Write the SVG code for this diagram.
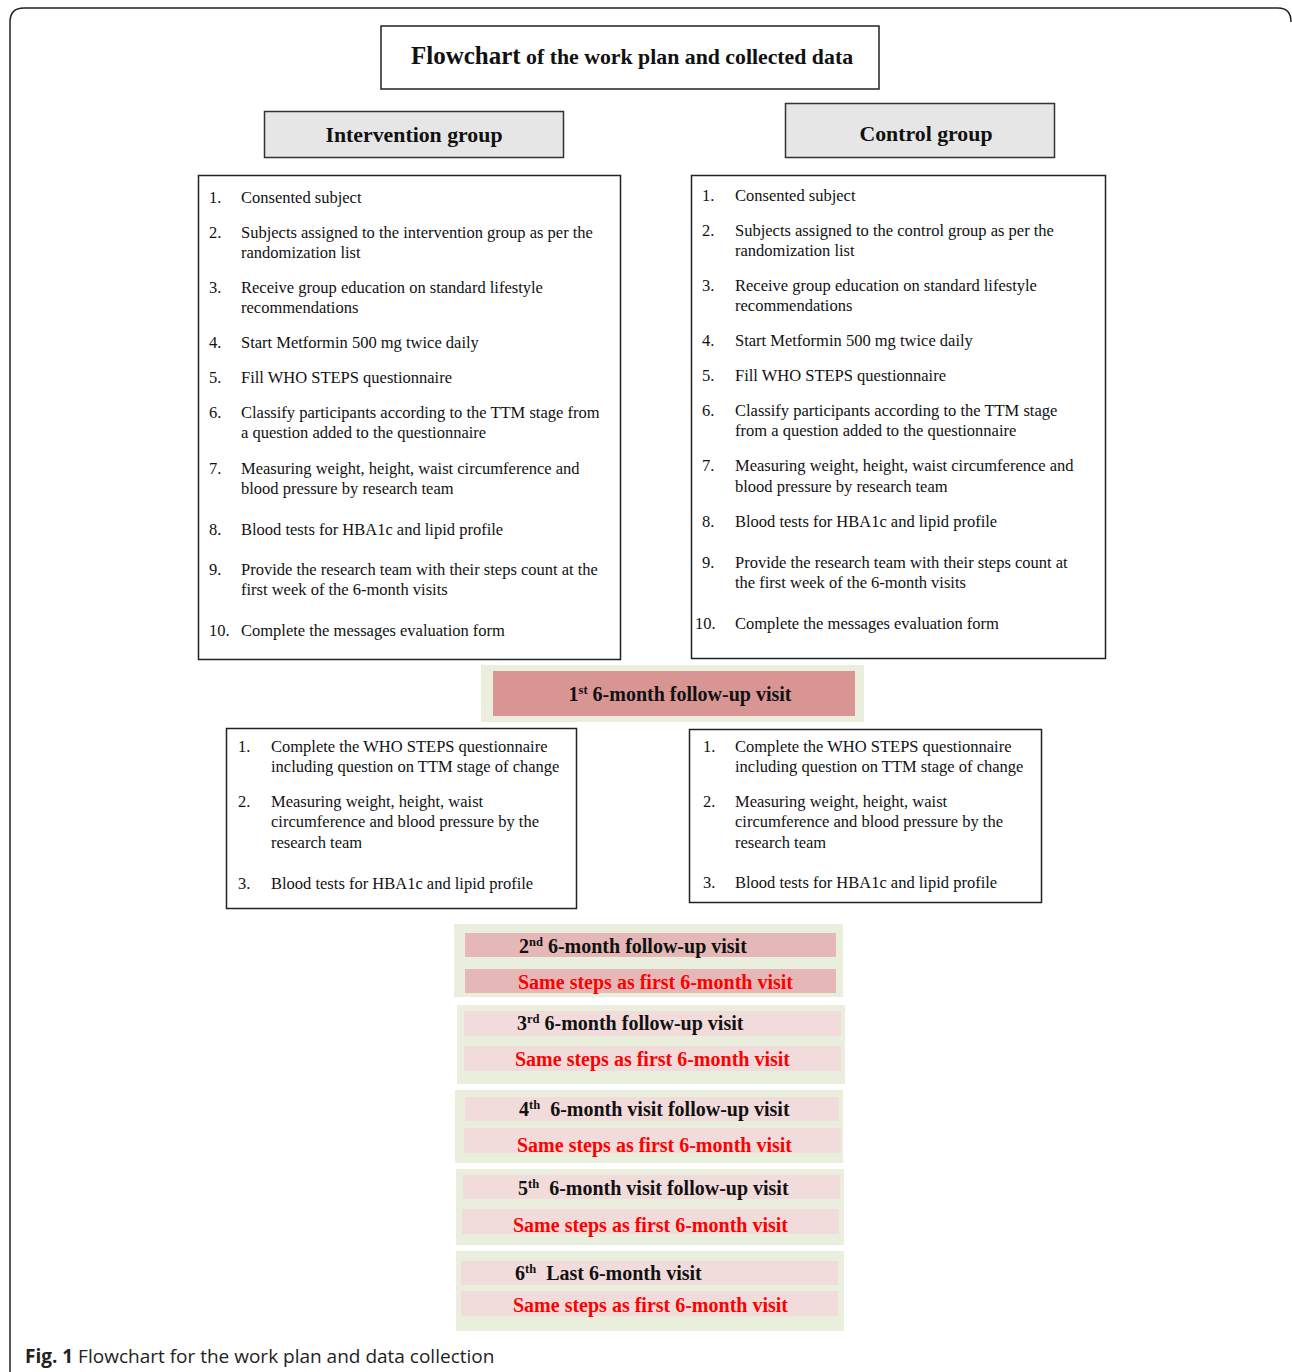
<svg xmlns="http://www.w3.org/2000/svg" width="1292" height="1372" viewBox="0 0 1292 1372">
<style>
.box{fill:#fff;stroke:#222;stroke-width:1.5}
.hdr{fill:#e6e6e6;stroke:#333;stroke-width:1.5}
.grn{fill:#e9efdc}
.p1{fill:#d99594}
.p2{fill:#e5b8b7}
.p3{fill:#f2dcdb}
.t{font-family:"Liberation Serif","Times New Roman",serif;font-size:16.5px;fill:#111}
.b{font-family:"Liberation Serif","Times New Roman",serif;font-weight:bold;fill:#111}
.v{font-family:"Liberation Serif","Times New Roman",serif;font-weight:bold;font-size:20px;fill:#111}
.r{font-family:"Liberation Serif","Times New Roman",serif;font-weight:bold;font-size:20px;fill:#ff0000}
.cap{font-family:"Open Sans","Liberation Sans",sans-serif;font-size:19px;fill:#222}
</style>
<rect width="1292" height="1372" fill="#fff"/>
<path d="M10,1372 V22 Q10,8 24,8 H1278 Q1291,8 1291,22" fill="none" stroke="#222" stroke-width="1.5"/>

<g id="title">
<rect x="381" y="26" width="498" height="63" class="box"/>
<text x="632" y="64" text-anchor="middle" class="b"><tspan font-size="25">Flowchart</tspan><tspan font-size="21.8"> of the work plan and collected data</tspan></text>
</g>

<g id="intervention-header">
<rect x="264.5" y="111.5" width="299" height="46" class="hdr"/>
<text x="414" y="142" text-anchor="middle" class="b" font-size="21.8">Intervention group</text>
</g>

<g id="control-header">
<rect x="785.5" y="103.5" width="269" height="54" class="hdr"/>
<text x="926" y="141" text-anchor="middle" class="b" font-size="21.8">Control group</text>
</g>

<g id="intervention-list">
<rect x="198.5" y="175.5" width="422" height="484" class="box"/>
<g class="t">
<text x="209" y="203">1.</text><text x="241" y="203">Consented subject</text>
<text x="209" y="238">2.</text><text x="241" y="238">Subjects assigned to the intervention group as per the</text><text x="241" y="258">randomization list</text>
<text x="209" y="293">3.</text><text x="241" y="293">Receive group education on standard lifestyle</text><text x="241" y="313">recommendations</text>
<text x="209" y="348">4.</text><text x="241" y="348">Start Metformin 500 mg twice daily</text>
<text x="209" y="383">5.</text><text x="241" y="383">Fill WHO STEPS questionnaire</text>
<text x="209" y="418">6.</text><text x="241" y="418">Classify participants according to the TTM stage from</text><text x="241" y="438">a question added to the questionnaire</text>
<text x="209" y="474">7.</text><text x="241" y="474">Measuring weight, height, waist circumference and</text><text x="241" y="494">blood pressure by research team</text>
<text x="209" y="535">8.</text><text x="241" y="535">Blood tests for HBA1c and lipid profile</text>
<text x="209" y="575">9.</text><text x="241" y="575">Provide the research team with their steps count at the</text><text x="241" y="595">first week of the 6-month visits</text>
<text x="209" y="636">10.</text><text x="241" y="636">Complete the messages evaluation form</text>
</g>
</g>

<g id="control-list">
<rect x="691.5" y="175.5" width="414" height="483" class="box"/>
<g class="t">
<text x="702" y="201">1.</text><text x="735" y="201">Consented subject</text>
<text x="702" y="236">2.</text><text x="735" y="236">Subjects assigned to the control group as per the</text><text x="735" y="256">randomization list</text>
<text x="702" y="291">3.</text><text x="735" y="291">Receive group education on standard lifestyle</text><text x="735" y="311">recommendations</text>
<text x="702" y="346">4.</text><text x="735" y="346">Start Metformin 500 mg twice daily</text>
<text x="702" y="381">5.</text><text x="735" y="381">Fill WHO STEPS questionnaire</text>
<text x="702" y="416">6.</text><text x="735" y="416">Classify participants according to the TTM stage</text><text x="735" y="436">from a question added to the questionnaire</text>
<text x="702" y="471">7.</text><text x="735" y="471">Measuring weight, height, waist circumference and</text><text x="735" y="492">blood pressure by research team</text>
<text x="702" y="527">8.</text><text x="735" y="527">Blood tests for HBA1c and lipid profile</text>
<text x="702" y="568">9.</text><text x="735" y="568">Provide the research team with their steps count at</text><text x="735" y="588">the first week of the 6-month visits</text>
<text x="695" y="629">10.</text><text x="735" y="629">Complete the messages evaluation form</text>
</g>
</g>

<g id="visit1">
<rect x="481" y="665" width="383" height="57" class="grn"/>
<rect x="493" y="671" width="362" height="45" class="p1"/>
<text x="680" y="701" text-anchor="middle" class="v">1<tspan font-size="12.5" dy="-7">st</tspan><tspan dy="7"> 6-month follow-up visit</tspan></text>
</g>

<g id="intervention-followup">
<rect x="226.5" y="728.5" width="350" height="180" class="box"/>
<g class="t">
<text x="238" y="752">1.</text><text x="271" y="752">Complete the WHO STEPS questionnaire</text><text x="271" y="772">including question on TTM stage of change</text>
<text x="238" y="807">2.</text><text x="271" y="807">Measuring weight, height, waist</text><text x="271" y="827">circumference and blood pressure by the</text><text x="271" y="848">research team</text>
<text x="238" y="889">3.</text><text x="271" y="889">Blood tests for HBA1c and lipid profile</text>
</g>
</g>

<g id="control-followup">
<rect x="689.5" y="729.5" width="352" height="173" class="box"/>
<g class="t">
<text x="703" y="752">1.</text><text x="735" y="752">Complete the WHO STEPS questionnaire</text><text x="735" y="772">including question on TTM stage of change</text>
<text x="703" y="807">2.</text><text x="735" y="807">Measuring weight, height, waist</text><text x="735" y="827">circumference and blood pressure by the</text><text x="735" y="848">research team</text>
<text x="703" y="888">3.</text><text x="735" y="888">Blood tests for HBA1c and lipid profile</text>
</g>
</g>

<g id="visit2">
<rect x="454" y="924" width="389" height="73" class="grn"/>
<rect x="465" y="933" width="371" height="24" class="p2"/>
<rect x="465" y="969" width="371" height="24" class="p2"/>
<text x="519" y="953" class="v">2<tspan font-size="12.5" dy="-7">nd</tspan><tspan dy="7"> 6-month follow-up visit</tspan></text>
<text x="518" y="989" class="r">Same steps as first 6-month visit</text>
</g>

<g id="visit3">
<rect x="457" y="1005" width="388" height="79" class="grn"/>
<rect x="464" y="1011" width="377" height="25" class="p3"/>
<rect x="464" y="1046" width="377" height="25" class="p3"/>
<text x="517" y="1030" class="v">3<tspan font-size="12.5" dy="-7">rd</tspan><tspan dy="7"> 6-month follow-up visit</tspan></text>
<text x="515" y="1066" class="r">Same steps as first 6-month visit</text>
</g>

<g id="visit4">
<rect x="455" y="1090" width="388" height="73" class="grn"/>
<rect x="465" y="1097" width="374" height="24" class="p3"/>
<rect x="464" y="1128" width="377" height="25" class="p3"/>
<text x="519" y="1116" class="v">4<tspan font-size="12.5" dy="-7">th</tspan><tspan dy="7" dx="5"> 6-month visit follow-up visit</tspan></text>
<text x="517" y="1152" class="r">Same steps as first 6-month visit</text>
</g>

<g id="visit5">
<rect x="456" y="1169" width="388" height="76" class="grn"/>
<rect x="463" y="1175" width="377" height="24" class="p3"/>
<rect x="462" y="1209" width="377" height="25" class="p3"/>
<text x="518" y="1195" class="v">5<tspan font-size="12.5" dy="-7">th</tspan><tspan dy="7" dx="5"> 6-month visit follow-up visit</tspan></text>
<text x="513" y="1232" class="r">Same steps as first 6-month visit</text>
</g>

<g id="visit6">
<rect x="456" y="1251" width="388" height="80" class="grn"/>
<rect x="461" y="1261" width="377" height="24" class="p3"/>
<rect x="461" y="1291" width="377" height="25" class="p3"/>
<text x="515" y="1280" class="v">6<tspan font-size="12.5" dy="-7">th</tspan><tspan dy="7" dx="5"> Last 6-month visit</tspan></text>
<text x="513" y="1312" class="r">Same steps as first 6-month visit</text>
</g>

<g id="connectors"></g>

<text x="25" y="1363" class="cap"><tspan font-weight="bold">Fig. 1</tspan> Flowchart for the work plan and data collection</text>
</svg>
